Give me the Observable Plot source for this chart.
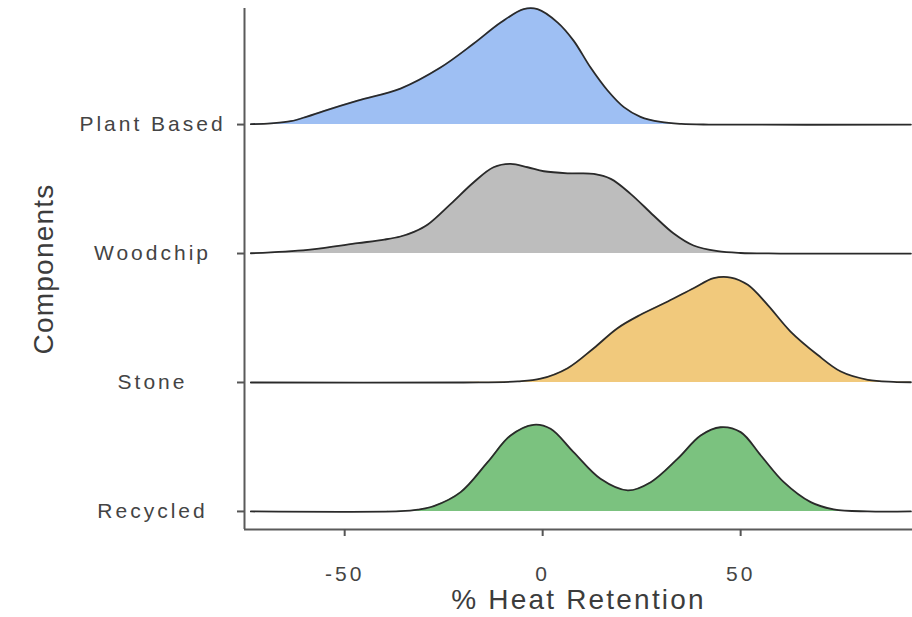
<!DOCTYPE html>
<html>
<head>
<meta charset="utf-8">
<script src="https://cdn.jsdelivr.net/npm/d3@7"></script>
<script src="https://cdn.jsdelivr.net/npm/@observablehq/plot@0.6"></script>
<style>
  html, body { margin: 0; padding: 0; background: #fff; }
  #chart { width: 912px; height: 617px; }
</style>
</head>
<body>
<div id="chart"></div>
<script>
// Row order from bottom (0) to top (3)
const components = ["Recycled", "Stone", "Woodchip", "Plant Based"];
const fills = ["#7bc27f", "#f1c97c", "#bdbdbd", "#9ebff3"];

const xTicks = [-50, 0, 50];
const xTitle = "% Heat Retention";
const yTitle = "Components";

// Ridge heights (in row units)
const plantX = [-73.7, -68.6, -63.6, -59.5, -55.3, -46.7, -35.9, -25.8, -17.4, -10.6, -4.8, -1.3, 3.8, 7.8, 12.1, 16.4, 20.5, 24.7, 29.8, 35, 42, 93];
const plantH = [0.003, 0.010, 0.026, 0.062, 0.105, 0.186, 0.279, 0.442, 0.628, 0.791, 0.895, 0.895, 0.791, 0.651, 0.442, 0.264, 0.135, 0.060, 0.020, 0.005, 0, 0];

const woodX = [-73.7, -59.3, -46.7, -40, -35.9, -32.5, -29.0, -23.2, -17.4, -12.4, -8.1, -3.8, 0.3, 6.3, 12.9, 17.2, 22.2, 28.0, 33.1, 38.1, 44.2, 50, 60, 93];
const woodH = [0.002, 0.029, 0.080, 0.108, 0.132, 0.168, 0.225, 0.385, 0.553, 0.669, 0.695, 0.669, 0.638, 0.622, 0.618, 0.579, 0.463, 0.295, 0.155, 0.062, 0.018, 0.004, 0, 0];

const stoneX = [-73.7, -20, -6.3, -0.5, 6.3, 12.9, 18.9, 24.7, 31.6, 38.1, 43.2, 47.5, 51.8, 56.8, 62.6, 69.4, 75.3, 82.1, 88.6, 93];
const stoneH = [0, 0, 0.008, 0.029, 0.111, 0.266, 0.421, 0.525, 0.628, 0.731, 0.809, 0.814, 0.757, 0.602, 0.395, 0.215, 0.085, 0.021, 0.005, 0.002];

const recX = [-73.7, -35.9, -31.5, -27.5, -20.7, -13.9, -8.1, -2.3, 2.0, 7.8, 14.6, 21.5, 27.3, 34.1, 39.9, 44.9, 50.0, 55.1, 60.9, 67.7, 73.5, 82.1, 93];
const recH = [0, 0.002, 0.014, 0.041, 0.150, 0.382, 0.589, 0.672, 0.641, 0.460, 0.253, 0.163, 0.227, 0.409, 0.589, 0.653, 0.615, 0.434, 0.227, 0.072, 0.016, 0, 0];

const xDomain = [-75.3, 93.4];
const yDomain = [-0.14, 3.9];

const seriesX = [recX, stoneX, woodX, plantX];
const seriesH = [recH, stoneH, woodH, plantH];

const rows = [];
components.forEach((c, i) => {
  seriesX[i].forEach((x, j) => rows.push({component: c, row: i, x, h: seriesH[i][j], top: i + seriesH[i][j]}));
});

const curve = "catmull-rom";
const marks = [];
for (let i = components.length - 1; i >= 0; i--) {
  const d = rows.filter(r => r.row === i);
  marks.push(Plot.areaY(d, {x: "x", y1: "row", y2: "top", fill: fills[i], curve}));
  marks.push(Plot.lineY(d, {x: "x", y: "top", stroke: "#2a2a2a", strokeWidth: 1.8, curve}));
}

const svg = Plot.plot({
  width: 912,
  height: 617,
  marginLeft: 244,
  marginRight: 0,
  marginTop: 8,
  marginBottom: 88,
  style: {fontFamily: "'Liberation Sans', Arial, sans-serif", background: "#fff"},
  x: {domain: xDomain},
  y: {domain: yDomain},
  marks: [
    ...marks,
    Plot.ruleX([xDomain[0]], {stroke: "#5a5a5a", strokeWidth: 2}),
    Plot.ruleY([yDomain[0]], {stroke: "#5a5a5a", strokeWidth: 2}),
    Plot.axisX({ticks: xTicks, tickFormat: d => String(d), tickSize: 7, tickPadding: 30, stroke: "#555", strokeWidth: 2, strokeOpacity: 1, fontSize: 21, fill: "#444", label: null}),
    Plot.axisY({ticks: [0, 1, 2, 3], tickFormat: i => components[i], tickSize: 7, tickPadding: 85, textAnchor: "middle", stroke: "#555", strokeWidth: 2, strokeOpacity: 1, fontSize: 21, fill: "#444", label: null}),
    Plot.text([xTitle], {frameAnchor: "bottom", lineAnchor: "middle", textAnchor: "middle", dy: 71, fontSize: 28, fill: "#3c3c3c"}),
    Plot.text([yTitle], {frameAnchor: "left", lineAnchor: "middle", textAnchor: "middle", dx: -200, rotate: -90, fontSize: 28, fill: "#3c3c3c"})
  ]
});

const s = d3.select(svg);
s.selectAll('g[aria-label="y-axis tick label"] text').style("letter-spacing", "3px");
s.selectAll('g[aria-label="x-axis tick label"] text').style("letter-spacing", "3px");
s.selectAll("text").filter(function () { return this.textContent === xTitle; }).style("letter-spacing", "2.2px");
s.selectAll("text").filter(function () { return this.textContent === yTitle; }).style("letter-spacing", "1.2px");

document.getElementById("chart").appendChild(svg);
</script>
</body>
</html>
